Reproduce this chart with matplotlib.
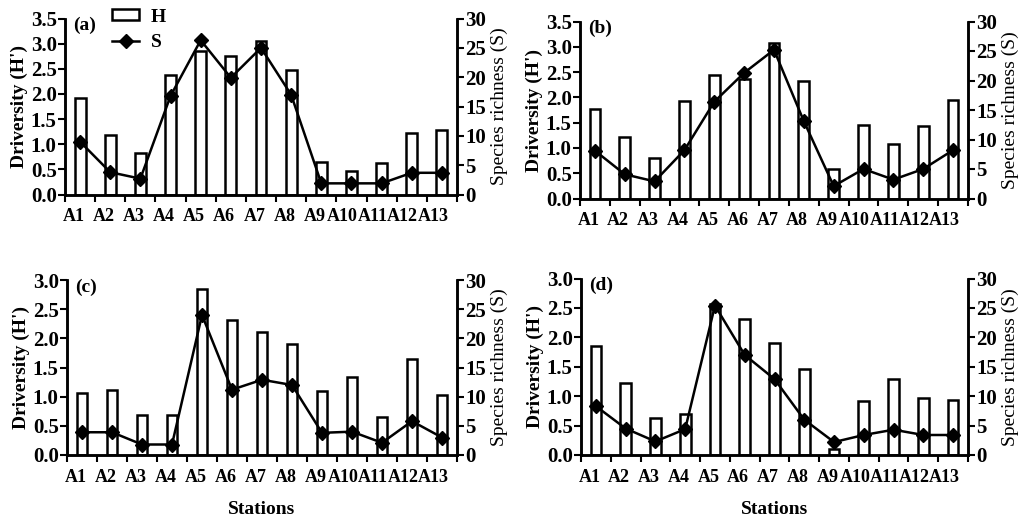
import numpy as np
import matplotlib.pyplot as plt
from matplotlib.lines import Line2D
from matplotlib.patches import Patch

plt.rcParams['font.family'] = 'serif'
plt.rcParams['font.serif'] = ['Liberation Serif', 'DejaVu Serif']
plt.rcParams['font.size'] = 14
plt.rcParams['font.weight'] = 'bold'
plt.rcParams['axes.labelweight'] = 'bold'

stations = ['A1', 'A2', 'A3', 'A4', 'A5', 'A6', 'A7', 'A8', 'A9', 'A10', 'A11', 'A12', 'A13']

# Shannon diversity (H') and species richness (S) per panel
h_a = [1.92, 1.18, 0.82, 2.37, 2.86, 2.75, 3.06, 2.47, 0.65, 0.46, 0.63, 1.23, 1.29]
s_a = [9.0, 3.8, 2.7, 16.8, 26.3, 19.9, 25.0, 17.0, 1.9, 1.9, 1.9, 3.7, 3.7]

h_b = [1.76, 1.22, 0.81, 1.92, 2.44, 2.37, 3.07, 2.33, 0.58, 1.46, 1.08, 1.43, 1.94]
s_b = [8.1, 4.1, 2.9, 8.2, 16.4, 21.3, 25.2, 13.1, 2.1, 5.0, 3.2, 5.0, 8.2]

h_c = [1.06, 1.11, 0.68, 0.69, 2.84, 2.31, 2.11, 1.91, 1.10, 1.34, 0.65, 1.65, 1.03]
s_c = [3.9, 3.9, 1.8, 1.8, 24.0, 11.2, 12.9, 12.0, 3.8, 4.0, 2.1, 5.8, 3.0]

h_d = [1.86, 1.23, 0.63, 0.69, 2.57, 2.32, 1.90, 1.46, 0.11, 0.92, 1.30, 0.97, 0.94]
s_d = [8.3, 4.5, 2.3, 4.4, 25.4, 17.0, 12.9, 6.0, 2.2, 3.4, 4.3, 3.4, 3.4]

panels = [
    ('(a)', h_a, s_a, 3.5, [65, 457, 18.5, 194.5]),
    ('(b)', h_b, s_b, 3.5, [580, 968, 21.5, 198.5]),
    ('(c)', h_c, s_c, 3.0, [67, 457, 280, 455]),
    ('(d)', h_d, s_d, 3.0, [581, 968, 278.5, 455]),
]

W, H = 1026, 521
fig = plt.figure(figsize=(W / 100, H / 100), dpi=100)

x = np.arange(len(stations)) + 0.5
# labels sit a little left of the category centre, the longer ones a bit more
label_x = x - np.array([0.3 if len(s) > 2 else 0.22 for s in stations])

for k, (tag, hv, sv, hmax, box) in enumerate(panels):
    l, r, t, b = box
    ax = fig.add_axes([l / W, (H - b) / H, (r - l) / W, (b - t) / H])
    ax2 = ax.twinx()

    ax.bar(x, hv, width=0.36, color='white', edgecolor='black', linewidth=1.8, zorder=2)
    ax2.plot(x, sv, color='black', linewidth=1.8, marker='D', markersize=7, zorder=3)

    ax.set_xlim(0, len(stations))
    ax.set_ylim(0, hmax)
    ax.set_yticks(np.arange(0, hmax + 0.01, 0.5))
    ax.yaxis.set_major_formatter(plt.FuncFormatter(lambda v, p: f'{v:.1f}'))
    ax2.set_ylim(0, 30)
    ax2.set_yticks(np.arange(0, 31, 5))

    # tick marks at category boundaries
    ax.set_xticks(np.arange(len(stations) + 1), minor=False)
    ax.set_xticklabels([])
    ax.set_xticks(label_x, minor=True)
    ax.set_xticklabels(stations, minor=True, fontsize=13)
    ax.tick_params(axis='x', which='minor', length=0, pad=10)
    ax.tick_params(axis='x', which='major', length=5, width=1.5, direction='out')
    ax.tick_params(axis='y', length=5, width=1.5, pad=1, labelsize=15)
    ax2.tick_params(axis='y', length=5, width=1.5, pad=1, labelsize=15)

    for a in (ax, ax2):
        a.spines['top'].set_visible(False)
        for s in ('left', 'right', 'bottom'):
            a.spines[s].set_linewidth(1.8)

    ax.set_ylabel("Driversity (H')", labelpad=2)
    ax2.set_ylabel('Species richness (S)', labelpad=3, fontweight='normal')
    ax.text(0.02, 1.01, tag, transform=ax.transAxes, ha='left', va='top')

    if k == 0:
        handles = [Patch(facecolor='white', edgecolor='black', linewidth=1.8),
                   Line2D([], [], color='black', linewidth=1.8, marker='D', markersize=7)]
        ax.legend(handles, ['H', 'S'], loc='upper left', bbox_to_anchor=(0.1, 1.1),
                  frameon=False, handlelength=1.4, handleheight=0.5, labelspacing=0.45,
                  borderaxespad=0, handletextpad=0.6)
    if k >= 2:
        ax.set_xlabel('Stations', labelpad=11)

fig.savefig('out.png', dpi=100)
